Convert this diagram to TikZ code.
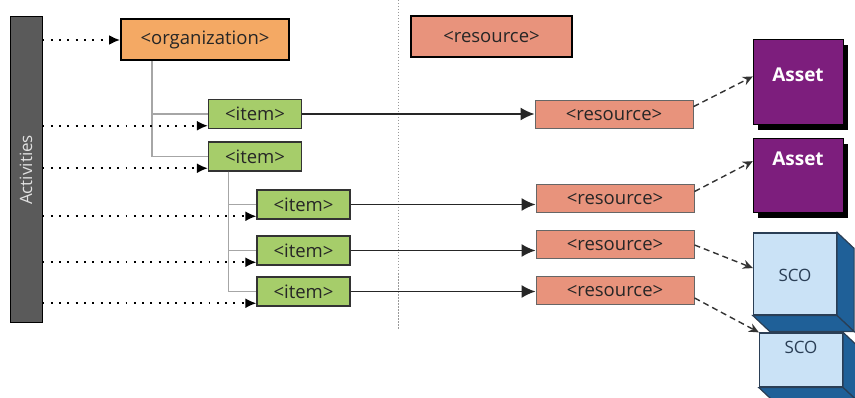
\documentclass[tikz,border=0pt]{standalone}
\usepackage{fontspec}
\setmainfont{Open Sans}
\usepackage{tikz}
\usetikzlibrary{arrows.meta, shadows}

\definecolor{orgorange}{HTML}{F4A964}
\definecolor{ressalmon}{HTML}{E8937C}
\definecolor{itemgreen}{HTML}{A6CD6A}
\definecolor{actgray}{HTML}{5A5A5A}
\definecolor{assetpurple}{HTML}{7D1E7D}
\definecolor{scolight}{HTML}{CAE2F6}
\definecolor{scodark}{HTML}{1F6098}
\definecolor{scoink}{HTML}{2A3E55}

\begin{document}
\begin{tikzpicture}[
    x=1pt, y=-1pt,
    box/.style={
        rectangle,
        inner sep=0pt,
        font=\fontsize{18.5}{20}\selectfont,
        text=black!85
    },
    bigbox/.style={
        box,
        draw=black,
        line width=2pt,
        minimum height=41pt
    },
    itembox/.style={
        box,
        fill=itemgreen,
        draw=black!80,
        line width=1.3pt,
        minimum width=93pt,
        minimum height=29pt
    },
    resbox/.style={
        box,
        fill=ressalmon,
        draw=black!60,
        line width=1pt,
        minimum width=158pt,
        minimum height=28pt
    },
    assetbox/.style={
        rectangle,
        fill=assetpurple,
        draw=black,
        line width=0.5pt,
        minimum width=90pt,
        drop shadow={shadow xshift=5pt, shadow yshift=-6pt, fill=black, opacity=1}
    },
    assettext/.style={
        white,
        font=\bfseries\fontsize{19}{21}\selectfont
    },
    scobox/.style={
        rectangle,
        fill=scolight,
        draw=scoink,
        line width=1.2pt,
        minimum width=83pt
    },
    scolabel/.style={
        text=scoink,
        font=\fontsize{17}{19}\selectfont
    },
    scoside/.style={
        fill=scodark,
        draw=scoink,
        line width=1.2pt
    },
    tree/.style={
        draw=black!35,
        line width=1.2pt
    },
    arrow/.style={
        -{Latex[length=14pt, width=13pt]},
        line width=1.4pt,
        black!85
    },
    dotarrow/.style={
        -{Latex[length=11pt, width=10pt]},
        line width=1.9pt,
        dash pattern=on 1.9pt off 6.4pt
    },
    dasharrow/.style={
        -{Stealth[length=10pt, width=9pt]},
        line width=1.4pt,
        black!80,
        dash pattern=on 6pt off 4pt
    }
]
\useasboundingbox (0,0) rectangle (855,398);

% Activities bar
\node[rectangle, fill=actgray, draw=black, line width=1pt,
      minimum width=32pt, minimum height=306pt,
      label={[rotate=90, white!88!black, font=\fontsize{17}{19}\selectfont]center:Activities}]
      (acts) at (26,170) {};

% Separator
\draw[black!40, line width=1pt, dash pattern=on 1.5pt off 1.5pt] (398,0) -- (398,330);

% Organization and items
\node[bigbox, fill=orgorange, minimum width=168pt] (org)  at (205,40)  {<organization>};
\node[bigbox, fill=ressalmon, minimum width=161pt] (res0) at (491.5,37) {<resource>};

\node[itembox] (item1) at (255,114)   {<item>};
\node[itembox] (item2) at (255,156.5) {<item>};
\node[itembox] (item3) at (303.5,204.5) {<item>};
\node[itembox] (item4) at (303.5,250.5) {<item>};
\node[itembox] (item5) at (303.5,291.5) {<item>};

% Resources
\node[resbox] (res1) at (614,115)   {<resource>};
\node[resbox] (res2) at (615,198.5) {<resource>};
\node[resbox] (res3) at (615,245)   {<resource>};
\node[resbox] (res4) at (615,291)   {<resource>};

% Assets
\node[assetbox, minimum height=85pt,
      label={[assettext, yshift=7pt]center:Asset}]  (asset1) at (798,82)  {};
\node[assetbox, minimum height=74pt,
      label={[assettext, yshift=16pt]center:Asset}] (asset2) at (798,175) {};

% SCOs (lower one first)
\node[scobox, minimum height=54pt,
      label={[scolabel, yshift=13pt]center:SCO}] (sco2) at (801,360) {};
\draw[scoside] (sco2.north east) -- ++(17,16) -- ([shift={(17,16)}]sco2.south east) -- (sco2.south east) -- cycle;
\draw[scoside] (sco2.south west) -- ++(17,16) -- ([shift={(17,16)}]sco2.south east) -- (sco2.south east) -- cycle;

\node[scobox, minimum height=82pt,
      label={[scolabel, yshift=-1pt]center:SCO}] (sco1) at (795,274) {};
\draw[scoside] (sco1.north east) -- ++(17,16) -- ([shift={(17,16)}]sco1.south east) -- (sco1.south east) -- cycle;
\draw[scoside] (sco1.south west) -- ++(17,16) -- ([shift={(17,16)}]sco1.south east) -- (sco1.south east) -- cycle;

% Tree
\draw[tree] ([xshift=32pt]org.south west) |- (item1.west);
\draw[tree] ([xshift=32pt]org.south west) |- (item2.west);
\foreach \i in {3,4,5}
    \draw[tree] ([xshift=21pt]item2.south west) |- (item\i.west);

% Activities arrows
\draw[dotarrow] (acts.east |- org.west) -- (org.west);
\foreach \i in {1,...,5}
    \draw[dotarrow] (acts.east |- item\i.194) -- (item\i.194);

% Item to resource
\foreach \i/\r in {1/1, 3/2, 4/3, 5/4}
    \draw[arrow] (item\i.east) -- (item\i.east -| res\r.west);

% Resource to content
\draw[dasharrow] (res1.6)    -- (asset1.173);
\draw[dasharrow] (res2.5)    -- (asset2.163);
\draw[dasharrow] (res3.east) -- (sco1.172);
\draw[dasharrow] (res4.-5)   -- (sco2.north west);

\end{tikzpicture}
\end{document}
